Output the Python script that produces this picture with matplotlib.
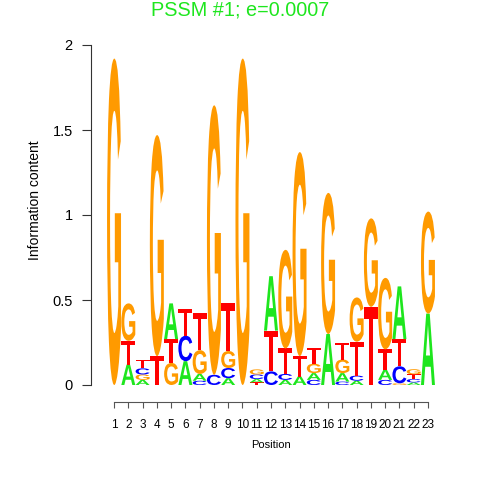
import matplotlib
matplotlib.use('Agg')
import matplotlib.pyplot as plt
from matplotlib.textpath import TextPath
from matplotlib.patches import PathPatch
from matplotlib.font_manager import FontProperties
from matplotlib.transforms import Affine2D

plt.rcParams['font.family'] = ['Liberation Sans', 'DejaVu Sans']

# information content of each base at each position
positions = list(range(1, 24))
bits_a = [0.00, 0.12, 0.030, 0.00, 0.21, 0.14, 0.040, 0.00, 0.04, 0.00, 0.020, 0.32,
          0.030, 0.05, 0.040, 0.30, 0.05, 0.025, 0.00, 0.06, 0.31, 0.015, 0.42]
bits_c = [0.00, 0.00, 0.036, 0.00, 0.00, 0.15, 0.025, 0.06, 0.06, 0.00, 0.027, 0.08,
          0.035, 0.00, 0.030, 0.00, 0.02, 0.030, 0.00, 0.03, 0.10, 0.020, 0.00]
bits_g = [1.92, 0.22, 0.032, 1.30, 0.13, 0.00, 0.140, 1.585, 0.10, 1.92, 0.030, 0.00,
          0.580, 1.20, 0.055, 0.83, 0.08, 0.260, 0.52, 0.42, 0.01, 0.030, 0.60]
bits_t = [0.00, 0.14, 0.052, 0.17, 0.14, 0.16, 0.220, 0.00, 0.28, 0.00, 0.015, 0.24,
          0.150, 0.12, 0.095, 0.00, 0.10, 0.200, 0.46, 0.12, 0.16, 0.028, 0.00]
bases = ['A', 'C', 'G', 'T']
base_colors = {'A': '#1ee61e', 'C': '#0000ff', 'G': '#ff9a00', 'T': '#ff0000'}
y_ticks = [0, 0.5, 1, 1.5, 2]
y_tick_labels = ['0', '0.5', '1', '1.5', '2']

letter_font = FontProperties(family='Liberation Sans', weight='bold')


def draw_letter(ax, ch, x, y0, h, w=0.98):
    tp = TextPath((0, 0), ch, size=1, prop=letter_font)
    bb = tp.get_extents()
    tr = (Affine2D().translate(-bb.x0, -bb.y0)
          .scale(w / bb.width, h / bb.height)
          .translate(x - w / 2, y0))
    ax.add_patch(PathPatch(tr.transform_path(tp), fc=base_colors[ch], ec='none'))


fig = plt.figure(figsize=(4.8, 4.8), dpi=100)
ax = fig.add_axes([106.9 / 480, 95 / 480, 328.2 / 480, 340 / 480])

columns = list(zip(bits_a, bits_c, bits_g, bits_t))
for pos, col in zip(positions, columns):
    stack = sorted(zip(col, bases))
    y = 0.0
    for h, b in stack:
        if h > 0:
            draw_letter(ax, b, pos, y, h)
            y += h

ax.set_xlim(0.5, 23.5)
ax.set_ylim(0, 2)
for s in ['top', 'right']:
    ax.spines[s].set_visible(False)
ax.spines['left'].set_position(('outward', 11.5))
ax.spines['left'].set_bounds(0, 2)
ax.spines['left'].set_color('#333333')
ax.spines['bottom'].set_position(('outward', 12.2))
ax.spines['bottom'].set_bounds(1, 23)
ax.spines['bottom'].set_color('#555555')
for s in ['left', 'bottom']:
    ax.spines[s].set_linewidth(0.8)

ax.set_yticks(y_ticks)
ax.set_yticklabels(y_tick_labels)
ax.set_xticks(positions)
ax.set_xticklabels([str(p) for p in positions])
ax.tick_params(axis='y', length=6.5, width=0.8, color='#333333', pad=6.5, labelsize=10.5)
ax.tick_params(axis='x', length=4.5, width=0.8, color='#555555', pad=8, labelsize=8.5)

ax.text(0.5, (385 - 445) / 340, 'Position', transform=ax.transAxes,
        ha='center', va='center', fontsize=8)
fig.text(35 / 480, 1 - 200 / 480, 'Information content', rotation=90,
         ha='center', va='center', fontsize=10)
fig.text(0.5, 1 - 15 / 480, 'PSSM #1; e=0.0007', ha='center', va='baseline',
         fontsize=14.3, color='#1ee61e')

fig.savefig('out.png', dpi=100)
